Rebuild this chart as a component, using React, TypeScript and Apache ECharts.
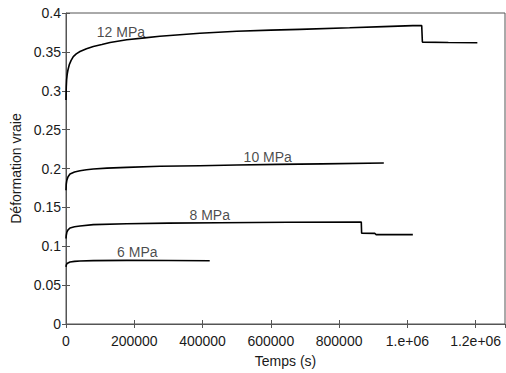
import React, { useEffect, useRef } from "react";
import * as echarts from "echarts";

const xTickLabels: Record<number, string> = {
  0: "0",
  200000: "200000",
  400000: "400000",
  600000: "600000",
  800000: "800000",
  1000000: "1.e+06",
  1200000: "1.2e+06",
};

const s12: [number, number][] = [
  [0, 0.288], [800, 0.305], [1800, 0.314], [3500, 0.321], [5850, 0.327], [10000, 0.334],
  [15000, 0.339], [21400, 0.344], [30000, 0.3475], [41000, 0.3505], [60000, 0.354],
  [80000, 0.357], [105000, 0.3595], [129000, 0.362], [178000, 0.3655], [230000, 0.368],
  [275000, 0.370], [392000, 0.374], [500000, 0.3765], [600000, 0.378], [685000, 0.379],
  [831000, 0.381], [930000, 0.3825], [1016000, 0.3838], [1042000, 0.3838],
  [1044000, 0.3626], [1120000, 0.362], [1205000, 0.3617],
];

const s10: [number, number][] = [
  [0, 0.172], [800, 0.180], [2500, 0.185], [6000, 0.1895], [11700, 0.193], [25000, 0.1955],
  [41000, 0.197], [60000, 0.1983], [80000, 0.1994], [120000, 0.2005], [178000, 0.2015],
  [275000, 0.2028], [392000, 0.2036], [500000, 0.2045], [620000, 0.2053], [750000, 0.206],
  [931000, 0.207],
];

const s8: [number, number][] = [
  [0, 0.110], [800, 0.114], [2500, 0.118], [6000, 0.121], [11700, 0.1235], [25000, 0.125],
  [41000, 0.126], [80000, 0.1278], [178000, 0.129], [300000, 0.1298], [450000, 0.1303],
  [650000, 0.1308], [865000, 0.1312], [866000, 0.1167], [905000, 0.1165], [908000, 0.115],
  [1016000, 0.115],
];

const s6: [number, number][] = [
  [0, 0.0735], [800, 0.0758], [3000, 0.0778], [11700, 0.0798], [25000, 0.0805],
  [41000, 0.081], [80000, 0.0815], [178000, 0.0818], [300000, 0.0816], [421000, 0.0814],
];

const curveLabels: [number, number, string][] = [
  [161000, 0.376, "12 MPa"],
  [591000, 0.2147, "10 MPa"],
  [421000, 0.1406, "8 MPa"],
  [209000, 0.092, "6 MPa"],
];

const FONT = "'Liberation Sans', Arial, sans-serif";
const AX = "#555";
const TXT = "#1a1a1a";

export default function App() {
  const ref = useRef<HTMLDivElement>(null);
  useEffect(() => {
    if (!ref.current) return;
    const chart = echarts.init(ref.current, undefined, { renderer: "svg" });
    const lineSeries = (data: [number, number][]) => ({
      type: "line",
      data,
      showSymbol: false,
      symbol: "none",
      lineStyle: { color: "#000", width: 1.6 },
      xAxisIndex: 0,
      yAxisIndex: 0,
    });
    chart.setOption({
      animation: false,
      backgroundColor: "#fff",
      grid: {
        left: 66,
        right: 1,
        top: 13,
        bottom: 47,
        show: true,
        borderColor: AX,
        borderWidth: 1,
        backgroundColor: "transparent",
      },
      xAxis: [
        {
          type: "value",
          min: 0,
          max: 1286000,
          interval: 200000,
          name: "Temps (s)",
          nameLocation: "middle",
          nameGap: 30,
          nameTextStyle: { fontFamily: FONT, fontSize: 14, color: TXT },
          axisLine: { show: true, lineStyle: { color: AX } },
          axisTick: { show: true, inside: true, length: 4, lineStyle: { color: AX } },
          splitLine: { show: false },
          axisLabel: {
            fontFamily: FONT,
            fontSize: 14,
            color: TXT,
            margin: 10,
            showMaxLabel: false,
            formatter: (v: number) => xTickLabels[v] ?? "",
          },
        },
        {
          type: "value",
          position: "top",
          min: 0,
          max: 1286000,
          interval: 200000,
          axisLine: { show: false },
          axisTick: { show: true, inside: true, length: 4, lineStyle: { color: AX } },
          axisLabel: { show: false },
          splitLine: { show: false },
        },
      ],
      yAxis: [
        {
          type: "value",
          min: 0,
          max: 0.4,
          interval: 0.05,
          name: "Déformation vraie",
          nameLocation: "middle",
          nameGap: 43,
          nameTextStyle: { fontFamily: FONT, fontSize: 14, color: TXT },
          axisLine: { show: true, lineStyle: { color: AX } },
          axisTick: { show: true, inside: true, length: 4, lineStyle: { color: AX } },
          splitLine: { show: false },
          axisLabel: {
            fontFamily: FONT,
            fontSize: 14,
            color: TXT,
            margin: 5,
            formatter: (v: number) => String(Number(v.toFixed(2))),
          },
        },
        {
          type: "value",
          position: "right",
          min: 0,
          max: 0.4,
          interval: 0.05,
          axisLine: { show: false },
          axisTick: { show: true, inside: true, length: 4, lineStyle: { color: AX } },
          axisLabel: { show: false },
          splitLine: { show: false },
        },
      ],
      series: [
        lineSeries(s12),
        lineSeries(s10),
        lineSeries(s8),
        lineSeries(s6),
        {
          type: "scatter",
          xAxisIndex: 0,
          yAxisIndex: 0,
          symbolSize: 0,
          data: curveLabels.map((d) => ({ value: [d[0], d[1]], name: d[2] })),
          label: {
            show: true,
            position: "inside",
            formatter: (p: any) => p.name,
            fontFamily: FONT,
            fontSize: 14,
            color: TXT,
          },
          silent: true,
        },
      ],
    });
    return () => chart.dispose();
  }, []);
  return <div ref={ref} style={{ width: 506, height: 373, position: "absolute", left: 0, top: 0 }} />;
}
